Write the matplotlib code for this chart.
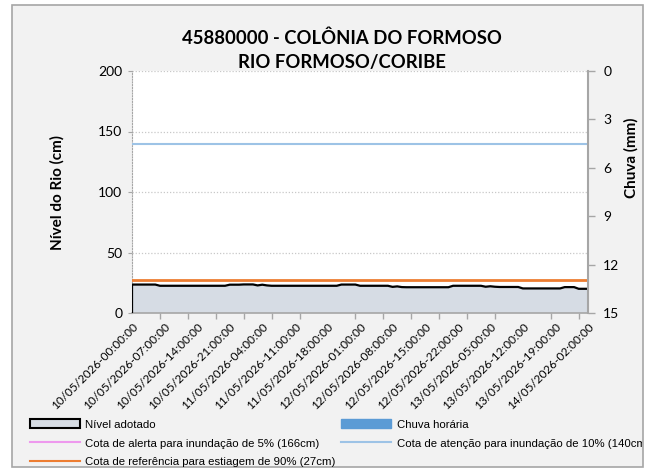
import numpy as np
import matplotlib
matplotlib.use("Agg")
import matplotlib.pyplot as plt
from matplotlib.lines import Line2D
from matplotlib.patches import Patch, Rectangle
from matplotlib.transforms import Bbox, TransformedBbox

# hourly river level (cm), 10/05/2026 00:00 -> 14/05/2026 02:00
nivel = [
    23.5, 23.5, 23.5, 23.5, 23.5, 23.5,
    22.5, 22.5, 22.5, 22.5, 22.5, 22.5, 22.5, 22.5, 22.5, 22.5, 22.5, 22.5, 22.5, 22.5, 22.5,
    23.4, 23.4, 23.4, 23.6, 23.6, 23.6,
    22.8, 23.4, 22.8,
    22.5, 22.5, 22.5, 22.5, 22.5, 22.5, 22.5, 22.5, 22.5, 22.5, 22.5, 22.5, 22.5, 22.5, 22.5,
    23.5, 23.5, 23.5, 23.5,
    22.5, 22.5, 22.5, 22.5, 22.5, 22.5, 22.5,
    21.6, 22.0, 21.4,
    21.3, 21.3, 21.3, 21.3, 21.3, 21.3, 21.3, 21.3, 21.3, 21.3,
    22.5, 22.5, 22.5, 22.5, 22.5, 22.5, 22.5,
    21.7, 22.1, 21.7,
    21.5, 21.5, 21.5, 21.5, 21.5,
    20.3, 20.3, 20.3, 20.3, 20.3, 20.3, 20.3, 20.3, 20.3,
    21.4, 21.4, 21.4,
    20.0, 20.0, 20.0,
]
# hourly rain (mm) - no rain recorded in the period
chuva = [
    0, 0, 0, 0, 0, 0, 0, 0, 0, 0, 0, 0, 0, 0, 0, 0, 0, 0, 0, 0,
    0, 0, 0, 0, 0, 0, 0, 0, 0, 0, 0, 0, 0, 0, 0, 0, 0, 0, 0, 0,
    0, 0, 0, 0, 0, 0, 0, 0, 0, 0, 0, 0, 0, 0, 0, 0, 0, 0, 0, 0,
    0, 0, 0, 0, 0, 0, 0, 0, 0, 0, 0, 0, 0, 0, 0, 0, 0, 0, 0, 0,
    0, 0, 0, 0, 0, 0, 0, 0, 0, 0, 0, 0, 0, 0, 0, 0, 0, 0, 0,
]
x_labels = [
    "10/05/2026-00:00:00", "10/05/2026-07:00:00", "10/05/2026-14:00:00",
    "10/05/2026-21:00:00", "11/05/2026-04:00:00", "11/05/2026-11:00:00",
    "11/05/2026-18:00:00", "12/05/2026-01:00:00", "12/05/2026-08:00:00",
    "12/05/2026-15:00:00", "12/05/2026-22:00:00", "13/05/2026-05:00:00",
    "13/05/2026-12:00:00", "13/05/2026-19:00:00", "14/05/2026-02:00:00",
]
cota_alerta = 166
cota_atencao = 140
cota_estiagem = 27

W, H = 655, 475
fig = plt.figure(figsize=(W / 100, H / 100), dpi=100, facecolor="white")

# chart frame
frame = Rectangle((12 / W, 8 / H), 631 / W, 462 / H, transform=fig.transFigure,
                  facecolor="#f2f2f2", edgecolor="#a6a6a6", lw=1.2, zorder=-10)
fig.patches.append(frame)

ax = fig.add_axes([132 / W, 1 - 313 / H, 456 / W, 242 / H])
ax.set_facecolor("white")
x = np.arange(len(nivel))

ax.fill_between(x, 0, nivel, facecolor="#d6dce4", edgecolor="none", zorder=2)
ax.plot(np.r_[x[0], x], np.r_[0, nivel], color="black", lw=1.6, zorder=3)
ax.axhline(cota_atencao, color="#9dc3e6", lw=1.5, zorder=4)
ax.axhline(cota_estiagem, color="#ed7d31", lw=2, zorder=4)

ax.set_xlim(0, len(nivel) - 1)
ax.set_ylim(0, 200)
ax.set_yticks([0, 50, 100, 150, 200])
ax.yaxis.grid(True, color="#c8c8c8", ls=(0, (1, 1.5)), lw=0.9)
ax.set_axisbelow(True)

ax.set_xticks(x[::7])
ax.set_xticklabels(x_labels, rotation=45, ha="right", rotation_mode="anchor",
                   family="Lato", fontsize=8.5)
ax.set_xticks(x[::6], minor=True)
ax.tick_params(axis="x", which="major", length=0, pad=6)
ax.tick_params(axis="x", which="minor", length=4, color="#a6a6a6", width=1)
ax.tick_params(axis="y", length=3, color="#a6a6a6", pad=4, labelsize=10)
for t in ax.get_yticklabels():
    t.set_family("Lato")

for s in ["top", "right"]:
    ax.spines[s].set_visible(False)
ax.spines["bottom"].set_color("#a6a6a6")
ax.spines["bottom"].set_linewidth(1.2)
ax.spines["left"].set_color("#a6a6a6")
ax.spines["left"].set_linestyle((0, (1, 1.5)))
ax.set_ylabel("Nível do Rio (cm)", family="Lato", fontweight="bold", fontsize=11, labelpad=24)

# rain on the inverted secondary axis
ax2 = ax.twinx()
ax2.bar(x, chuva, width=0.8, color="#5b9bd5", zorder=2)
ax2.set_ylim(15, 0)
ax2.set_yticks([0, 3, 6, 9, 12, 15])
ax2.tick_params(axis="y", length=5, color="#a6a6a6", width=1, pad=6, labelsize=10)
for t in ax2.get_yticklabels():
    t.set_family("Lato")
for s in ["top", "left", "bottom"]:
    ax2.spines[s].set_visible(False)
ax2.spines["right"].set_color("#a6a6a6")
ax2.spines["right"].set_linewidth(1.5)
fig.text(631 / W, 1 - 158 / H, "Chuva (mm)", rotation=90, ha="center", va="center",
         family="Lato", fontweight="bold", fontsize=11)

fig.text(342 / W, 1 - 50 / H, "45880000 - COLÔNIA DO FORMOSO\nRIO FORMOSO/CORIBE",
         ha="center", va="center", family="Lato", fontweight="bold", fontsize=13.3,
         linespacing=1.5)

handles = [
    Patch(facecolor="#d6dce4", edgecolor="black", lw=1.5),
    Line2D([], [], color="#ee99ee", lw=1.5),
    Line2D([], [], color="#ed7d31", lw=1.5),
    Patch(facecolor="#5b9bd5", edgecolor="#5b9bd5"),
    Line2D([], [], color="#9dc3e6", lw=1.5),
]
labels = [
    "Nível adotado",
    "Cota de alerta para inundação de 5% (166cm)",
    "Cota de referência para estiagem de 90% (27cm)",
    "Chuva horária",
    "Cota de atenção para inundação de 10% (140cm)",
]
leg = fig.legend(handles, labels, ncol=2, loc="upper left",
                 bbox_to_anchor=(30 / W, 1 - 419 / H), frameon=False,
                 prop={"family": "Liberation Sans", "size": 8.2},
                 handlelength=4.4, handleheight=0.9, handletextpad=0.45,
                 columnspacing=0.5, labelspacing=0.72, borderaxespad=0,
                 borderpad=0)
clip = TransformedBbox(Bbox([[0, 0], [642 / W, 1]]), fig.transFigure)
for t in leg.get_texts():
    t.set_clip_box(clip)
    t.set_clip_on(True)

fig.savefig("out.png", dpi=100, facecolor="white")
